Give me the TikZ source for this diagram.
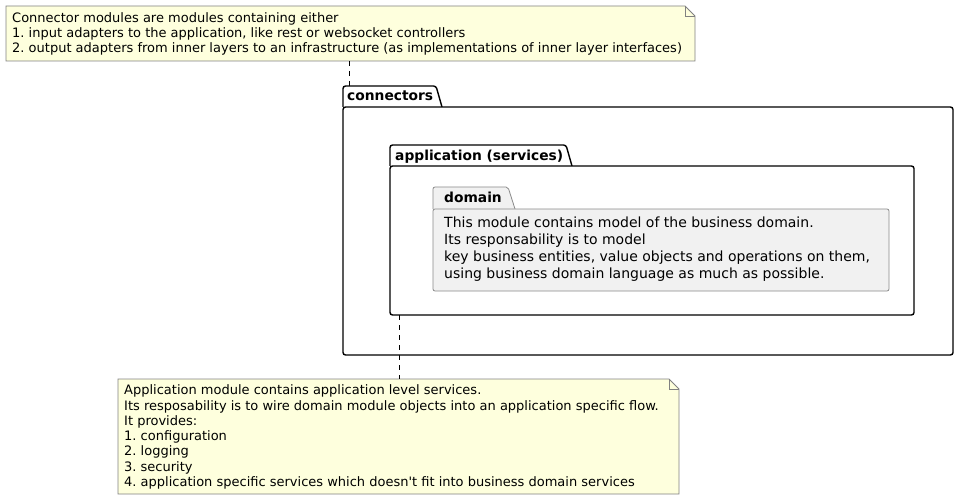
\documentclass[tikz,border=0pt]{standalone}
\usepackage{fontspec}
\setmainfont{DejaVu Sans}
\definecolor{notefill}{HTML}{FEFFDD}
\definecolor{noteline}{HTML}{818181}
\definecolor{domfill}{HTML}{F1F1F1}
\definecolor{domline}{HTML}{8A8A8A}
\tikzset{
  notebox/.style={draw=noteline, fill=notefill, line width=0.9pt, line join=miter},
  notetext/.style={anchor=base west, align=left, inner sep=0pt, font=\fontsize{13}{15.3}\selectfont\frenchspacing},
  pkg/.style={draw=black, fill=white, line width=1.4pt, rounded corners=2.5pt},
  dompkg/.style={draw=domline, fill=domfill, line width=0.8pt, rounded corners=2pt},
  pkglabel/.style={anchor=base west, inner sep=0pt, font=\fontsize{13.8}{16}\selectfont\bfseries},
  domtext/.style={anchor=base west, align=left, inner sep=0pt, font=\fontsize{14}{16.7}\selectfont},
  link/.style={draw=black, line width=0.8pt, dash pattern=on 5pt off 5pt}
}
\begin{document}
\begin{tikzpicture}[x=1pt,y=-1pt]
\useasboundingbox (0,0) rectangle (959,500);
% top note
\path[notebox] (6,6) -- (685,6) -- (695,16) -- (695,61) -- (6,61) -- cycle;
\draw[notebox, fill=none] (685,6) -- (685,16) -- (695,16);
\node[notetext] (n1) at (12,53) {Connector modules are modules containing either\\1. input adapters to the application, like rest or websocket controllers\\2. output adapters from inner layers to an infrastructure (as implementations of inner layer interfaces)};
% connectors package
\draw[pkg] (343,107) |- (436,86) -- (442,107);
\draw[pkg] (343,107) rectangle (953,355);
\node[pkglabel] (conn) at (347,101) {connectors};
% application package
\draw[pkg] (390,166) |- (566,145) -- (572,166);
\draw[pkg] (390,166) rectangle (914,315);
\node[pkglabel] (app) at (395,160.5) {application (services)};
% domain package
\draw[dompkg] (433,209) |- (508,187) -- (515,209);
\draw[dompkg] (433,209) rectangle (889,291);
\node[pkglabel] (dom) at (444,203) {domain};
\node[domtext] (domt) at (444,278) {This module contains model of the business domain.\\Its responsability is to model\\key business entities, value objects and operations on them,\\using business domain language as much as possible.};
% bottom note
\path[notebox] (118,379) -- (669,379) -- (679,389) -- (679,494) -- (118,494) -- cycle;
\draw[notebox, fill=none] (669,379) -- (669,389) -- (679,389);
\node[notetext] (n2) at (124,486.5) {Application module contains application level services.\\Its resposability is to wire domain module objects into an application specific flow.\\It provides:\\1. configuration\\2. logging\\3. security\\4. application specific services which doesn\textquotesingle t fit into business domain services};
% connectors
\coordinate (l1a) at (349,61);
\coordinate (l1b) at (349,86);
\draw[link] (l1a) -- (l1b);
\coordinate (l2a) at (399,315);
\coordinate (l2b) at (399,379);
\draw[link] (l2a) -- (l2b);
\end{tikzpicture}
\end{document}
